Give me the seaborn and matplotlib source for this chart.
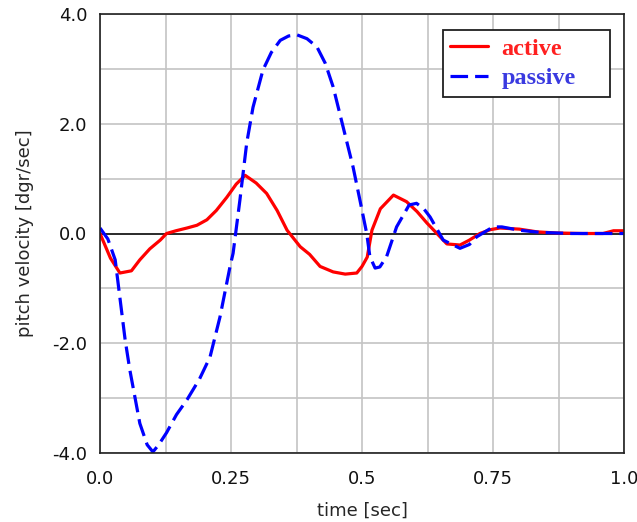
import pandas as pd
import matplotlib.pyplot as plt
import seaborn as sns

# curvas
t_active = [0.0, 0.02, 0.038, 0.06, 0.076, 0.095, 0.115, 0.127, 0.145, 0.166, 0.185, 0.204,
            0.222, 0.242, 0.26, 0.277, 0.298, 0.318, 0.338, 0.357, 0.382, 0.40, 0.42, 0.445,
            0.468, 0.49, 0.50, 0.51, 0.519, 0.535, 0.56, 0.585, 0.605, 0.624, 0.645, 0.662,
            0.687, 0.705, 0.725, 0.745, 0.763, 0.80, 0.834, 0.87, 0.92, 0.96, 0.98, 1.0]
v_active = [0.0, -0.45, -0.72, -0.68, -0.48, -0.28, -0.12, 0.0, 0.05, 0.1, 0.15, 0.25,
            0.42, 0.66, 0.9, 1.06, 0.92, 0.73, 0.42, 0.06, -0.24, -0.38, -0.6, -0.7,
            -0.74, -0.72, -0.6, -0.43, 0.06, 0.45, 0.70, 0.58, 0.40, 0.19, -0.02, -0.19,
            -0.21, -0.12, 0.0, 0.07, 0.1, 0.08, 0.03, 0.01, 0.0, 0.0, 0.05, 0.05]

t_passive = [0.0, 0.015, 0.029, 0.048, 0.057, 0.076, 0.09, 0.101, 0.112, 0.127, 0.146, 0.166,
             0.19, 0.21, 0.229, 0.248, 0.254, 0.267, 0.28, 0.292, 0.311, 0.327, 0.344, 0.36,
             0.376, 0.395, 0.414, 0.43, 0.445, 0.464, 0.483, 0.496, 0.509, 0.515, 0.525,
             0.534, 0.547, 0.566, 0.59, 0.604, 0.618, 0.63, 0.655, 0.687, 0.705, 0.719,
             0.75, 0.767, 0.80, 0.84, 0.90, 0.95, 1.0]
v_passive = [0.1, -0.1, -0.48, -1.94, -2.49, -3.46, -3.85, -3.98, -3.85, -3.63, -3.3, -3.03,
             -2.65, -2.25, -1.52, -0.61, -0.36, 0.61, 1.65, 2.3, 2.98, 3.3, 3.52, 3.6,
             3.62, 3.55, 3.4, 3.1, 2.67, 1.94, 1.21, 0.61, 0.0, -0.42, -0.63,
             -0.61, -0.42, 0.12, 0.52, 0.55, 0.45, 0.3, -0.12, -0.27, -0.2, -0.06,
             0.12, 0.12, 0.06, 0.02, 0.0, 0.0, 0.0]

x_ticks = [0.0, 0.25, 0.5, 0.75, 1.0]
x_ticklabels = ['0.0', '0.25', '0.5', '0.75', '1.0']
x_minor = [0.125, 0.375, 0.625, 0.875]
y_ticks = [-4, -3, -2, -1, 0, 1, 2, 3, 4]
y_ticklabels = ['-4.0', '', '-2.0', '', '0.0', '', '2.0', '', '4.0']

df = pd.concat([
    pd.DataFrame({'t': t_active, 'v': v_active, 'serie': 'active'}),
    pd.DataFrame({'t': t_passive, 'v': v_passive, 'serie': 'passive'}),
])

sns.set_style("whitegrid")
plt.rcParams['font.family'] = ['DejaVu Sans']

fig = plt.figure(figsize=(6.37, 5.22), dpi=100)
ax = fig.add_axes([100 / 637, 1 - 453 / 522, 524 / 637, 439 / 522])

sns.lineplot(data=df, x='t', y='v', hue='serie', style='serie', sort=False,
             palette={'active': '#ff0000', 'passive': '#0000ff'},
             dashes={'active': '', 'passive': (5.5, 2.2)}, linewidth=2.3, ax=ax)

ax.axhline(0, color='black', lw=1.1, zorder=1.5)
ax.set_xlim(0, 1.0)
ax.set_ylim(-4.0, 4.0)
ax.set_xticks(x_ticks, labels=x_ticklabels)
ax.set_xticks(x_minor, minor=True)
ax.set_yticks(y_ticks, labels=y_ticklabels)
ax.grid(True, which='both', color='#c4c4c4', lw=1.2)
ax.tick_params(axis='both', which='major', direction='out', length=5, width=1,
               color='black', labelsize=13, labelcolor='#111111')
ax.tick_params(axis='x', which='major', pad=7)
ax.tick_params(axis='y', which='major', pad=4)
ax.tick_params(axis='x', which='minor', length=0)
for s in ax.spines.values():
    s.set_color('#202020')
    s.set_linewidth(1.2)

ax.set_xlabel('time [sec]', fontsize=13, labelpad=10)
ax.set_ylabel('pitch velocity [dgr/sec]', fontsize=13, labelpad=13)

leg = ax.legend(loc='upper right', bbox_to_anchor=(0.6546, 0.806, 0.3187, 0.157), mode='expand',
                borderaxespad=0, frameon=True, fancybox=False,
                edgecolor='#202020', framealpha=1, handlelength=1.55, handletextpad=0.55,
                prop={'family': ['Liberation Serif'], 'weight': 'bold', 'size': 17.5},
                borderpad=0.3, labelspacing=0.32, title=None)
leg.get_frame().set_linewidth(1.3)
for txt, c in zip(leg.get_texts(), ['#ff2020', '#3a3ae0']):
    txt.set_color(c)

plt.savefig('out.png', dpi=100)
plt.close()
